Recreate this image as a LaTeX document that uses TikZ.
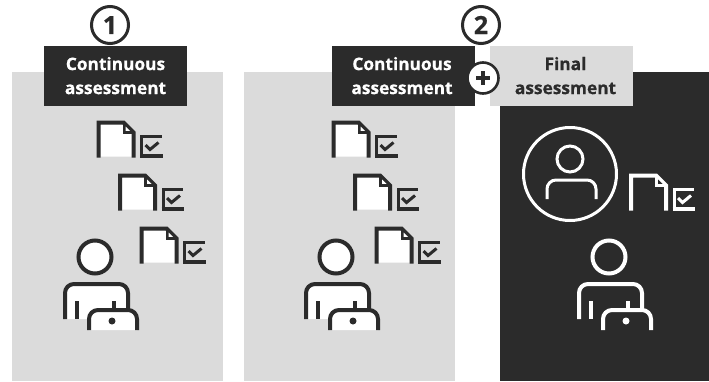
\documentclass[tikz,border=0pt]{standalone}
\usepackage{fontspec}
\setmainfont[BoldFeatures={FakeBold=0.6}]{Open Sans}
\definecolor{dk}{HTML}{2B2B2B}
\definecolor{lt}{HTML}{DBDBDB}
\tikzset{
  x=1pt,y=-1pt,
  panel/.style={fill=lt,draw=none},
  lbl/.style={minimum width=143pt,minimum height=60pt,inner sep=0pt,align=center,font=\fontsize{17.3}{24}\selectfont\bfseries},
  numc/.style={circle,draw=dk,line width=3pt,minimum size=37pt,inner sep=0pt,text=dk,font=\fontsize{25}{25}\selectfont\bfseries},
}
\newcommand{\docat}[4]{% x y stroke fill
  \begin{scope}[shift={(#1,#2)}]
    \fill[#4] (0,34)--(0,0)--(25,0)--(35,10)--(35,34)--cycle;
    \draw[#3,line width=4pt,line join=miter] (0,35)--(0,0)--(25,0)--(35,10)--(35,35);
    \draw[#3,line width=2pt] (25,0)--(25,10)--(35,10);
    \fill[#3] (25,0)--(25,10)--(35,10)--cycle;
    \fill[#4] (27,4)--(27,8.4)--(31.5,8.4)--cycle;
    \draw[#3,line width=3pt] (43,31.5)--(43,14)--(63,14);
    \draw[#3,line width=3.2pt] (41.5,33.5)--(64,33.5);
    \draw[#3,line width=3pt] (47,22.5)--(51.5,27)--(60,20);
  \end{scope}}
\newcommand{\personat}[4]{% x y stroke fill ; head centre
  \begin{scope}[shift={(#1,#2)}]
    \fill[#4] (-30,62)--(-30,36) arc[start angle=180,end angle=270,radius=8] -- (25,28) arc[start angle=270,end angle=360,radius=8] -- (33,62)--cycle;
    \draw[#3,line width=4pt,fill=#4] (0,0) circle[radius=16.5];
    \draw[#3,line width=4pt] (-30,62)--(-30,36) arc[start angle=180,end angle=270,radius=9] -- (24,27) arc[start angle=270,end angle=360,radius=9] -- (33,52);
    \draw[#3,line width=4pt] (-18,44)--(-18,62);
    \draw[#3,line width=4pt] (19,44)--(19,53);
    \fill[#4] (-6,73)--(-6,62) arc[start angle=180,end angle=270,radius=9] -- (33,53) arc[start angle=270,end angle=360,radius=9] -- (42,73)--cycle;
    \draw[#3,line width=4pt] (-6,73)--(-6,62) arc[start angle=180,end angle=270,radius=9] -- (33,53) arc[start angle=270,end angle=360,radius=9] -- (42,73);
    \fill[#3] (17,64) circle[radius=3.5];
  \end{scope}}
\begin{document}
\begin{tikzpicture}
\useasboundingbox (0,0) rectangle (709,381);
\fill[white] (0,0) rectangle (709,381);
\fill[panel] (12,72) rectangle (223,381);
\fill[panel] (244,72) rectangle (455,381);
\fill[dk] (500,72) rectangle (709,381);
\node[lbl,fill=dk,text=white] (a) at (115.5,76) {\raisebox{1pt}{Continuous}\\\raisebox{1pt}{assessment}};
\node[lbl,fill=dk,text=white] (b) at (403.5,76) {\raisebox{1pt}{\hspace*{-3pt}Continuous}\\\raisebox{1pt}{\hspace*{-3pt}assessment}};
\node[lbl,fill=lt,text=dk] (c) at (561,76) {\raisebox{1pt}{\hspace*{9pt}Final}\\\raisebox{1pt}{\hspace*{9pt}assessment}};
\node[numc] (n1) at (110,25) {1};
\node[numc] (n2) at (481,25) {2};
\node[circle,fill=white,draw=dk,line width=2.6pt,minimum size=31pt,inner sep=0pt,outer sep=0pt] (p) at (483,78) {};
\draw[dk,line width=3.6pt] (476,78)--(490,78) (483,71)--(483,85);
\docat{98.5}{122.5}{dk}{white}
\docat{120}{175.5}{dk}{white}
\docat{141.5}{228.5}{dk}{white}
\docat{333.5}{122.5}{dk}{white}
\docat{355}{175.5}{dk}{white}
\docat{376.5}{228.5}{dk}{white}
\docat{631}{175.5}{white}{dk}
\personat{95}{257}{dk}{white}
\personat{336}{257}{dk}{white}
\personat{609}{257}{white}{dk}
\draw[white,line width=3pt] (570,174) circle[radius=46.5];
\draw[white,line width=3pt] (570,159) circle[radius=13];
\draw[white,line width=3pt] (547,199)--(547,189) arc[start angle=180,end angle=270,radius=9]--(587,180) arc[start angle=270,end angle=360,radius=9]--(596,199);
\end{tikzpicture}
\end{document}
